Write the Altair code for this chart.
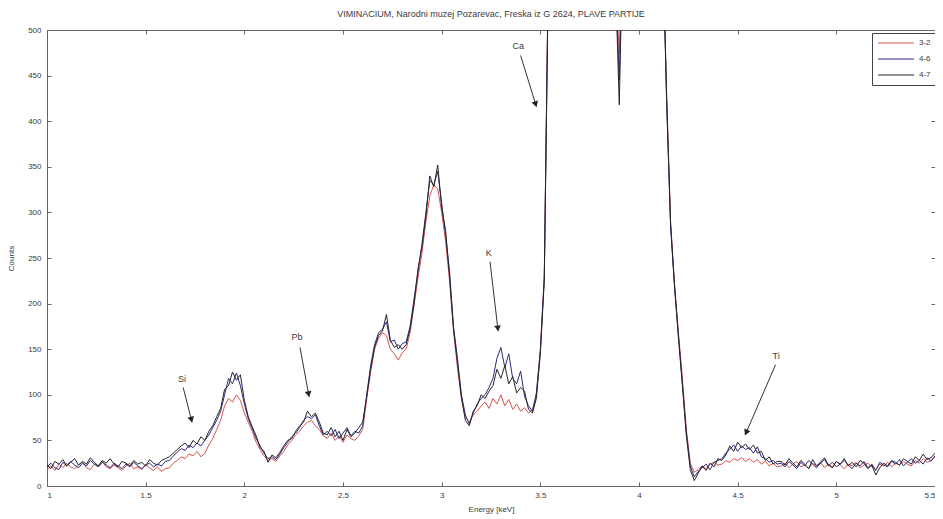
import math
import altair as alt
import pandas as pd

# ---------------- data ----------------
energy = [round(1.0 + 0.02 * i, 2) for i in range(226)]  # keV grid, 1.00 .. 5.50

counts_3_2 = [
    # 1.00 - 1.60
    18, 22, 17, 24, 20, 25, 21, 19, 23, 26, 20, 18, 24, 22, 27, 21, 19, 23, 20, 17,
    22, 25, 19, 21, 18, 23, 20, 17, 21, 16, 19,
    # 1.62 - 1.90
    20, 25, 28, 32, 30, 35, 33, 38, 32, 36, 45, 52, 62, 72, 88,
    # 1.92 - 2.00
    96, 92, 100, 94, 80,
    # 2.02 - 2.20
    70, 60, 48, 40, 33, 28, 30, 27, 33, 38,
    # 2.22 - 2.40
    45, 50, 56, 60, 66, 70, 72, 66, 62, 55,
    # 2.42 - 2.60
    52, 58, 50, 55, 48, 56, 52, 50, 55, 62,
    # 2.62 - 2.80
    95, 125, 150, 162, 168, 165, 150, 145, 138, 146,
    # 2.82 - 3.00
    150, 168, 198, 228, 255, 290, 318, 330, 326, 300,
    # 3.02 - 3.20
    268, 225, 170, 130, 95, 75, 70, 78, 82, 88,
    # 3.22 - 3.40
    92, 85, 96, 90, 100, 88, 95, 84, 90, 82,
    # 3.42 - 3.60
    86, 80, 84, 100, 150, 230, 560, 1200, 2200, 3500,
    # 3.62 - 4.10
    4500, 5500, 6000, 6200, 6000, 5200, 4000, 2800, 1800, 1200, 900, 750, 640, 560,
    474, 620, 820, 1000, 1300, 1700, 2000, 2100, 2000, 1600, 1000,
    # 4.12 - 4.40
    590, 430, 290, 222, 168, 118, 62, 25, 15, 18, 22, 19, 24, 26, 23,
    # 4.42 - 4.70
    24, 28, 26, 30, 28, 31, 27, 30, 26, 29, 24, 27, 22, 25, 21,
    # 4.72 - 5.50
    22, 25, 20, 24, 27, 21, 23, 19, 25, 22, 26, 20, 24, 21, 27, 23, 19, 24, 22, 26,
    20, 23, 25, 21, 18, 24, 22, 26, 21, 25, 23, 27, 24, 22, 28, 25, 30, 26, 28, 32,
]

counts_4_6 = [
    21, 25, 20, 18, 26, 22, 27, 23, 20, 25, 22, 28, 24, 21, 26, 23, 20, 25, 22, 19,
    24, 21, 26, 22, 19, 23, 25, 21, 24, 22, 27,
    28, 33, 37, 41, 39, 45, 42, 47, 44, 50, 56, 64, 72, 82, 100,
    118, 112, 124, 110, 90,
    74, 63, 52, 44, 36, 30, 32, 29, 35, 42,
    48, 54, 58, 64, 72, 76, 74, 78, 66, 56,
    60, 55, 62, 52, 58, 64, 55, 60, 58, 66,
    100, 132, 155, 168, 172, 180, 158, 160, 150, 156,
    158, 175, 205, 235, 265, 300, 335, 330, 345, 310,
    275, 235, 175, 140, 100, 78, 68, 80, 90, 96,
    100, 108, 118, 140, 152, 130, 145, 118, 112, 126,
    98, 88, 82, 102, 148, 228, 555, 1200, 2200, 3500,
    4500, 5500, 6000, 6200, 6000, 5200, 4000, 2800, 1800, 1200, 900, 750, 640, 560,
    445, 620, 820, 1000, 1300, 1700, 2000, 2100, 2000, 1600, 1000,
    600, 420, 285, 218, 165, 112, 58, 22, 10, 16, 20, 24, 18, 26, 28,
    30, 36, 40, 45, 38, 44, 40, 42, 36, 43, 32, 30, 26, 28, 24,
    25, 21, 27, 23, 19, 26, 22, 28, 24, 20, 25, 29, 22, 26, 21, 24, 28, 23, 19, 25,
    22, 27, 20, 24, 17, 26, 23, 21, 27, 24, 29, 22, 26, 30, 25, 28, 24, 31, 27, 33,
]

counts_4_7 = [
    23, 19, 27, 24, 29, 22, 26, 30, 23, 27, 24, 31, 26, 22, 28, 25, 30, 24, 21, 27,
    25, 22, 28, 24, 26, 22, 29, 25, 23, 28, 30,
    32, 36, 40, 44, 47, 42, 50, 46, 54, 50, 60, 66, 76, 85, 106,
    110, 125, 116, 122, 94,
    76, 65, 55, 42, 38, 26, 34, 31, 37, 44,
    50, 52, 60, 66, 70, 82, 76, 80, 70, 58,
    56, 64, 54, 60, 50, 62, 54, 58, 64, 70,
    98, 128, 152, 165, 170, 188, 160, 152, 155, 150,
    155, 172, 200, 238, 262, 295, 340, 328, 352, 305,
    280, 230, 172, 135, 98, 72, 66, 82, 88, 100,
    96, 104, 110, 128, 118, 132, 112, 120, 102, 108,
    104, 84, 80, 96, 145, 225, 550, 1200, 2200, 3500,
    4500, 5500, 6000, 6200, 6000, 5200, 4000, 2800, 1800, 1200, 900, 750, 640, 560,
    418, 620, 820, 1000, 1300, 1700, 2000, 2100, 2000, 1600, 1000,
    610, 425, 288, 220, 162, 110, 55, 18, 6, 14, 22, 17, 25, 21, 30,
    28, 34, 44, 38, 48, 42, 46, 40, 45, 36, 38, 28, 32, 24, 27,
    27, 23, 30, 25, 21, 28, 24, 19, 29, 22, 26, 31, 23, 20, 27, 24, 30, 22, 26, 21,
    28, 25, 19, 23, 12, 20, 25, 22, 28, 26, 23, 30, 27, 24, 32, 28, 35, 29, 31, 36,
]

series_names = ["3-2", "4-6", "4-7"]
series_colors = ["#d9534f", "#2a2a86", "#262626"]

x_ticks = [1, 1.5, 2, 2.5, 3, 3.5, 4, 4.5, 5, 5.5]
y_ticks = [0, 50, 100, 150, 200, 250, 300, 350, 400, 450, 500]

# element annotations: label position, arrow start, arrow tip (data units)
ann_labels = ["Si", "Pb", "K", "Ca", "Ti"]
ann_text_x = [1.684, 2.267, 3.238, 3.388, 4.695]
ann_text_y = [117, 163, 256, 482, 142]
ann_start_x = [1.690, 2.282, 3.245, 3.400, 4.692]
ann_start_y = [108, 152, 246, 472, 133]
ann_tip_x = [1.735, 2.328, 3.286, 3.480, 4.538]
ann_tip_y = [70, 98, 170, 416, 56]

title_text = "VIMINACIUM, Narodni muzej Pozarevac, Freska iz G 2624, PLAVE PARTIJE"

# ---------------- layout ----------------
W, H = 888, 456
X_DOM = [1.0, 5.5]
Y_DOM = [0, 500]
FONT = "Liberation Sans"
TXT = "#3a3a3a"
AX = "#666666"

rows = []
for name, vals in zip(series_names, [counts_3_2, counts_4_6, counts_4_7]):
    assert len(vals) == len(energy)
    for e, c in zip(energy, vals):
        rows.append({"Energy": e, "Counts": c, "Sample": name})
df = pd.DataFrame(rows)

# arrow geometry (computed in pixel space so heads point along the shafts)
kx = W / (X_DOM[1] - X_DOM[0])
ky = H / (Y_DOM[1] - Y_DOM[0])
ann_rows = []
for lab, tx, ty, sx, sy, px, py in zip(ann_labels, ann_text_x, ann_text_y,
                                       ann_start_x, ann_start_y, ann_tip_x, ann_tip_y):
    dx = (px - sx) * kx
    dy = -(py - sy) * ky  # screen y downwards
    L = math.hypot(dx, dy)
    ang = math.degrees(math.atan2(dx, -dy)) % 360
    back = 3.5
    hx = px - back * dx / L / kx
    hy = py + back * dy / L / ky
    ann_rows.append({"label": lab, "tx": tx, "ty": ty, "sx": sx, "sy": sy,
                     "px": px, "py": py, "hx": hx, "hy": hy, "ang": ang})
ann = pd.DataFrame(ann_rows)

xscale = alt.Scale(domain=X_DOM, nice=False, zero=False)
yscale = alt.Scale(domain=Y_DOM, nice=False)

lines = alt.Chart(df).mark_line(clip=True, strokeWidth=1, interpolate="linear").encode(
    x=alt.X("Energy:Q", scale=xscale,
            axis=alt.Axis(title="Energy [keV]", values=x_ticks, format="~g",
                          ticks=False, titlePadding=6, labelPadding=5)),
    y=alt.Y("Counts:Q", scale=yscale,
            axis=alt.Axis(title="Counts", values=y_ticks, ticks=False,
                          titlePadding=12, labelPadding=6)),
    color=alt.Color("Sample:N",
                    scale=alt.Scale(domain=series_names, range=series_colors),
                    legend=alt.Legend(title=None, orient="none", legendX=825, legendY=3,
                                      symbolType="stroke", symbolSize=1300,
                                      symbolStrokeWidth=1, labelFontSize=8,
                                      labelFont=FONT, labelColor=TXT,
                                      strokeColor="#444", fillColor="white",
                                      padding=5, rowPadding=6, clipHeight=10,
                                      labelOffset=4, cornerRadius=0)),
)

# inward tick marks on all four sides (MATLAB-style box); invisible in-domain points
ticks_tr = alt.Chart(ann).mark_point(opacity=0, clip=True).encode(
    x=alt.X("tx:Q", scale=xscale,
            axis=alt.Axis(orient="top", values=x_ticks, labels=False, domain=False,
                          title=None, tickSize=4, offset=-4)),
    y=alt.Y("ty:Q", scale=yscale,
            axis=alt.Axis(orient="right", values=y_ticks, labels=False, domain=False,
                          title=None, tickSize=4, offset=-4)),
)
ticks_bl = alt.Chart(ann).mark_point(opacity=0, clip=True).encode(
    x=alt.X("tx:Q", scale=xscale,
            axis=alt.Axis(orient="bottom", values=x_ticks, labels=False, domain=False,
                          title=None, tickSize=4, offset=-4)),
    y=alt.Y("ty:Q", scale=yscale,
            axis=alt.Axis(orient="left", values=y_ticks, labels=False, domain=False,
                          title=None, tickSize=4, offset=-4)),
)

shafts = alt.Chart(ann).mark_rule(color="#333", strokeWidth=1).encode(
    x=alt.X("sx:Q", scale=xscale, axis=None), y=alt.Y("sy:Q", scale=yscale, axis=None),
    x2="px:Q", y2="py:Q")

heads = alt.Chart(ann).mark_point(shape="triangle", filled=True, color="#222",
                                  size=45, opacity=1).encode(
    x=alt.X("hx:Q", scale=xscale, axis=None), y=alt.Y("hy:Q", scale=yscale, axis=None),
    angle=alt.Angle("ang:Q", scale=None))

labels = alt.Chart(ann).mark_text(font=FONT, fontSize=9, color=TXT,
                                  align="center", baseline="middle").encode(
    x=alt.X("tx:Q", scale=xscale, axis=None), y=alt.Y("ty:Q", scale=yscale, axis=None),
    text="label:N")

chart = alt.layer(lines, ticks_tr, ticks_bl, shafts, heads, labels).resolve_axis(
    x="independent", y="independent"
).properties(
    width=W, height=H,
    padding={"left": 39, "top": 22, "right": 0, "bottom": 33},
    autosize=alt.AutoSizeParams(type="none"),
    title=alt.TitleParams(title_text, font=FONT, fontSize=9, fontWeight="normal",
                          color=TXT, anchor="middle", offset=7),
).configure_view(
    stroke=AX, strokeWidth=1
).configure_axis(
    labelFont=FONT, titleFont=FONT, labelFontSize=8, titleFontSize=8,
    labelColor=TXT, titleColor=TXT, titleFontWeight="normal",
    domainColor=AX, tickColor=AX, grid=False,
)

chart.save("out.html", embed_options={"renderer": "svg", "actions": False})
